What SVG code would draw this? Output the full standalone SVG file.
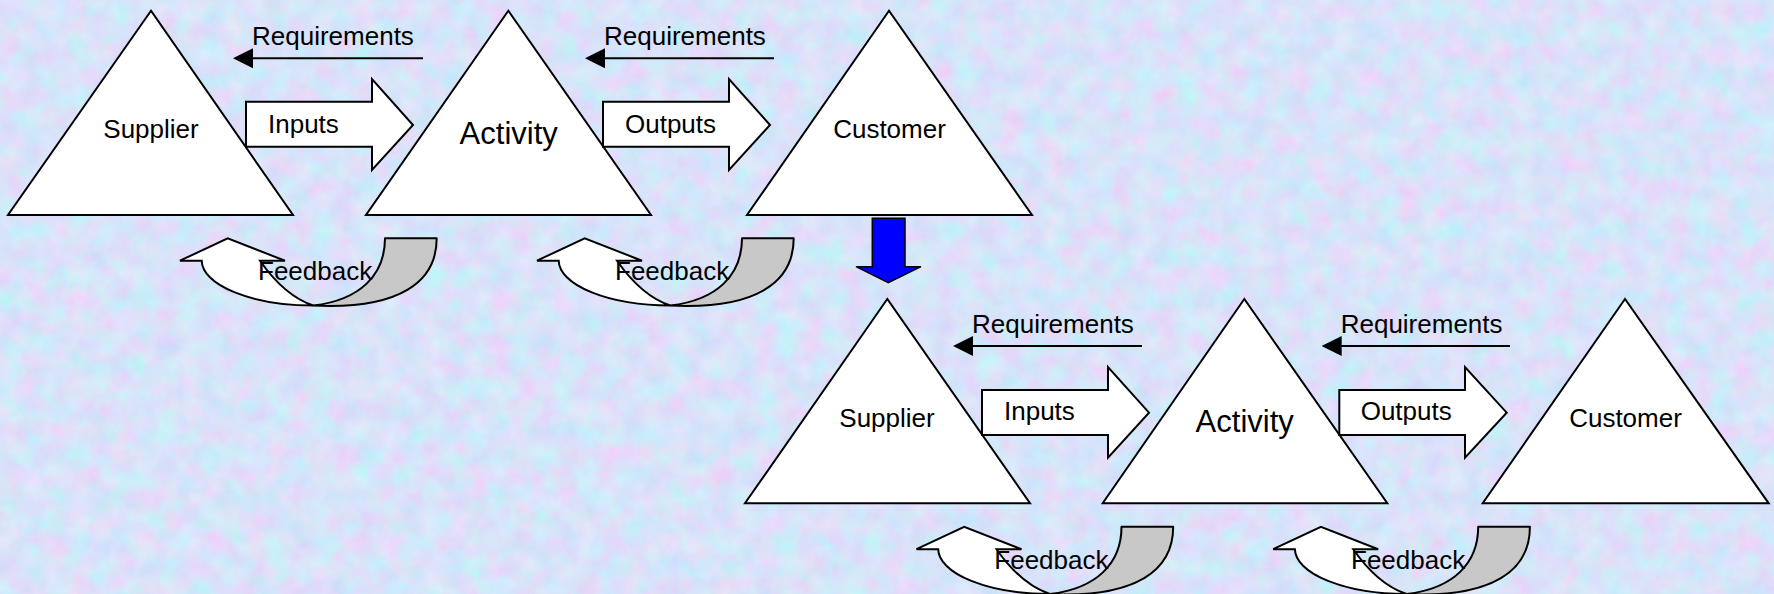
<svg xmlns="http://www.w3.org/2000/svg" xmlns:xlink="http://www.w3.org/1999/xlink" width="1774" height="594" viewBox="0 0 1774 594">
<style>
.tri{fill:#FFFFFF;stroke:#000000;stroke-width:2;stroke-linejoin:miter}
.blk{fill:#FFFFFF;stroke:#000000;stroke-width:2;stroke-linejoin:miter}
.req{fill:none;stroke:#000000;stroke-width:2}
.lbl{font-family:"Liberation Sans",Arial,sans-serif;font-size:26px;fill:#000000}
.big{font-size:31px}
.mid{text-anchor:middle}
.fbBack{fill:#C8C8C8;stroke:#000000;stroke-width:2;stroke-linejoin:round}
.fbFront{fill:#FFFFFF;stroke:#000000;stroke-width:2;stroke-linejoin:miter}
.down{fill:#0000FF;stroke:#000000;stroke-width:1.5}
</style>
<defs>
<filter id="tex" x="0" y="0" width="100%" height="100%" filterUnits="userSpaceOnUse">
<feTurbulence type="fractalNoise" baseFrequency="0.045" numOctaves="4" seed="7" result="n"/>
<feColorMatrix in="n" type="matrix" values="0.42 -0.18 0 0 0.57  -0.14 0.3 0 0 0.69  0 0 0.1 0 0.9  0 0 0 0 1"/>
</filter>
<marker id="ah" markerUnits="userSpaceOnUse" markerWidth="20" markerHeight="20" refX="10" refY="10" orient="auto">
<path d="M0,0 L20,10 L0,20 Z" fill="#000000"/>
</marker>
<g id="fbShape">
<path class="fbBack" d="M385,238.3 L436.7,238.3 C436.7,285 395,306 330,306 L313.3,305.5 C360,300 385,275 385,238.3 Z"/>
<path class="fbFront" d="M201.7,260.7 L180,260.7 L227.7,238.3 L285,260.7 L260,260.7 C270,275 288,297 313.3,305.5 A111.6 45.3 0 0 1 201.7,260.7 Z"/>
</g>
</defs>
<rect x="0" y="0" width="1774" height="594" fill="#B0C2F2"/>
<rect x="0" y="0" width="1774" height="594" filter="url(#tex)"/>

<g id="node-supplier-1">
<polygon class="tri" points="151,10.7 8,215 293,215"/>
<text class="lbl mid" x="151" y="138">Supplier</text>
</g>
<g id="node-activity-1">
<polygon class="tri" points="508.3,10.7 366,215 651,215"/>
<text class="lbl big mid" x="508.7" y="144">Activity</text>
</g>
<g id="node-customer-1">
<polygon class="tri" points="889,10.7 747,215 1032,215"/>
<text class="lbl mid" x="889.5" y="138">Customer</text>
</g>
<g id="node-supplier-2">
<polygon class="tri" points="887.3,299 745,503.3 1030,503.3"/>
<text class="lbl mid" x="887" y="426.7">Supplier</text>
</g>
<g id="node-activity-2">
<polygon class="tri" points="1244.3,299 1102.7,503.3 1387.3,503.3"/>
<text class="lbl big mid" x="1244.7" y="432.3">Activity</text>
</g>
<g id="node-customer-2">
<polygon class="tri" points="1625,299 1482.7,503.3 1768.7,503.3"/>
<text class="lbl mid" x="1625.5" y="427.3">Customer</text>
</g>

<g id="connectors">
<g id="req-1">
<line class="req" x1="423" y1="58.3" x2="243" y2="58.3" marker-end="url(#ah)"/>
<text class="lbl" x="252" y="45">Requirements</text>
</g>
<g id="req-2">
<line class="req" x1="774" y1="58.3" x2="595" y2="58.3" marker-end="url(#ah)"/>
<text class="lbl" x="604" y="45">Requirements</text>
</g>
<g id="req-3">
<line class="req" x1="1142" y1="346" x2="963" y2="346" marker-end="url(#ah)"/>
<text class="lbl" x="972" y="333.3">Requirements</text>
</g>
<g id="req-4">
<line class="req" x1="1510" y1="346" x2="1331.7" y2="346" marker-end="url(#ah)"/>
<text class="lbl" x="1340.7" y="333.3">Requirements</text>
</g>

<g id="inputs-1">
<polygon class="blk" points="246,101.7 372,101.7 372,79 413,125 372,170 372,146.7 246,146.7"/>
<text class="lbl" x="268" y="133">Inputs</text>
</g>
<g id="outputs-1">
<polygon class="blk" points="603,101.7 729,101.7 729,79 770,125 729,170 729,146.7 603,146.7"/>
<text class="lbl" x="625" y="132.7">Outputs</text>
</g>
<g id="inputs-2">
<polygon class="blk" points="982,390 1108,390 1108,367 1149,412.7 1108,457.7 1108,435 982,435"/>
<text class="lbl" x="1004" y="420">Inputs</text>
</g>
<g id="outputs-2">
<polygon class="blk" points="1339.3,390 1465,390 1465,367 1506.7,412.7 1465,457.7 1465,435 1339.3,435"/>
<text class="lbl" x="1360.7" y="420">Outputs</text>
</g>

<g id="feedback-1">
<use xlink:href="#fbShape" href="#fbShape"/>
<text class="lbl" x="258" y="280">Feedback</text>
</g>
<g id="feedback-2">
<use xlink:href="#fbShape" href="#fbShape" transform="translate(357,0)"/>
<text class="lbl" x="615" y="280">Feedback</text>
</g>
<g id="feedback-3">
<use xlink:href="#fbShape" href="#fbShape" transform="translate(736.5,288.5)"/>
<text class="lbl" x="994.3" y="568.5">Feedback</text>
</g>
<g id="feedback-4">
<use xlink:href="#fbShape" href="#fbShape" transform="translate(1093.2,288.5)"/>
<text class="lbl" x="1351" y="568.5">Feedback</text>
</g>

<g id="down-arrow">
<polygon class="down" points="872.3,218.3 905,218.3 905,266.7 921,266.7 888.3,282.7 856,266.7 872.3,266.7"/>
</g>
</g>
</svg>
